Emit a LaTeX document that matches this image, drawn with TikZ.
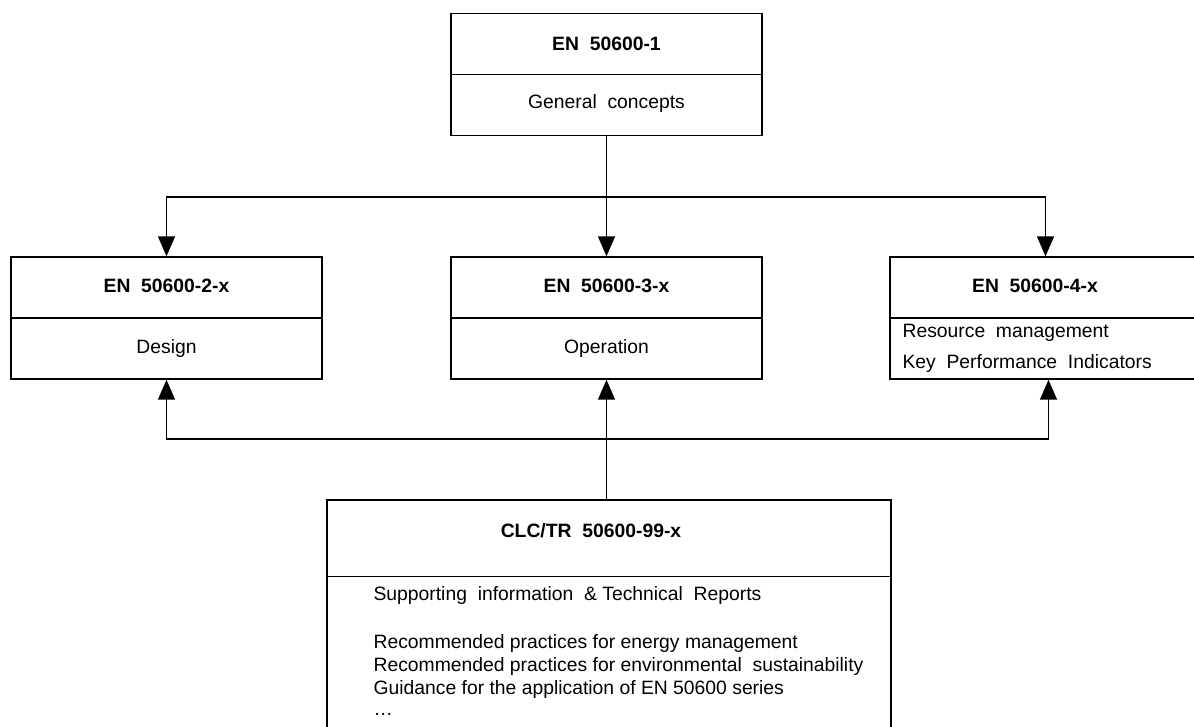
\documentclass[tikz,border=0pt]{standalone}
\usepackage{fontspec}
\setmainfont{Liberation Sans}
\usetikzlibrary{arrows.meta}
\tikzset{
  box/.style={draw, minimum width=6.22cm, minimum height=2.44cm, inner sep=0pt},
  head/.style={font=\fontsize{11}{13}\selectfont\bfseries},
  arr/.style={-{Triangle[length=0.4cm,width=0.34cm]}},
}
\begin{document}
\begin{tikzpicture}[x=0.02cm,y=-0.02cm,line width=0.8pt,font=\fontsize{11}{13}\selectfont]
\useasboundingbox (0,0) rectangle (1194,727);

% General concepts
\node[box] (gen) at (606.5,74.5) {};
\draw (gen.west) -- (gen.east);
\node[head] (gentitle) at (606.5,44) {EN\ \ 50600-1};
\node (gentext) at (606.5,104) {General\ \ concepts};

% Design
\node[box] (des) at (166.5,318) {};
\draw (des.west) -- (des.east);
\node[head] (destitle) at (166.5,286) {EN\ \ 50600-2-x};
\node (destext) at (166.5,348) {Design};

% Operation
\node[box] (ope) at (606.5,318) {};
\draw (ope.west) -- (ope.east);
\node[head] (opetitle) at (606.5,286) {EN\ \ 50600-3-x};
\node (opetext) at (606.5,348) {Operation};

% Resource management / KPI
\node[box] (kpi) at (1045.5,318) {};
\draw (kpi.west) -- (kpi.east);
\node[head] (kpititle) at (1035,286) {EN\ \ 50600-4-x};
\node[anchor=west] (kpires) at (896,333) {Resource\ \ management};
\node[anchor=west] (kpiind) at (896,363) {Key\ \ Performance\ \ Indicators};

% Supporting information
\node[box, minimum width=11.28cm, minimum height=5.6cm] (sup) at (609,640) {};
\draw (sup.north west) ++(0,77) -- ++(564,0);
\node[head] (suptitle) at (591,531) {CLC/TR\ \ 50600-99-x};
\node[anchor=west] (supinfo) at (367,595) {Supporting\ \ information\ \ \& Technical\ \ Reports};
\node[anchor=west] (supenergy) at (367,643) {Recommended practices for energy management};
\node[anchor=west] (supenv) at (367,666) {Recommended practices for environmental\ \ sustainability};
\node[anchor=west] (supguide) at (367,689) {Guidance for the application of EN 50600 series};
\node[anchor=west] (supdots) at (367,714) {\ldots};

% Arrows down
\coordinate (split) at (606.5,197);
\draw[arr] (gen.south) -- (ope.north);
\draw[arr] (split) -| (des.north);
\draw[arr] (split) -| (kpi.north);

% Arrows up
\coordinate (join) at (606.5,439);
\draw[arr] (ope.south |- sup.north) -- (ope.south);
\draw[arr] (join) -| (des.south);
\draw[arr] (join) -| ([xshift=0.06cm]kpi.south);
\end{tikzpicture}
\end{document}
